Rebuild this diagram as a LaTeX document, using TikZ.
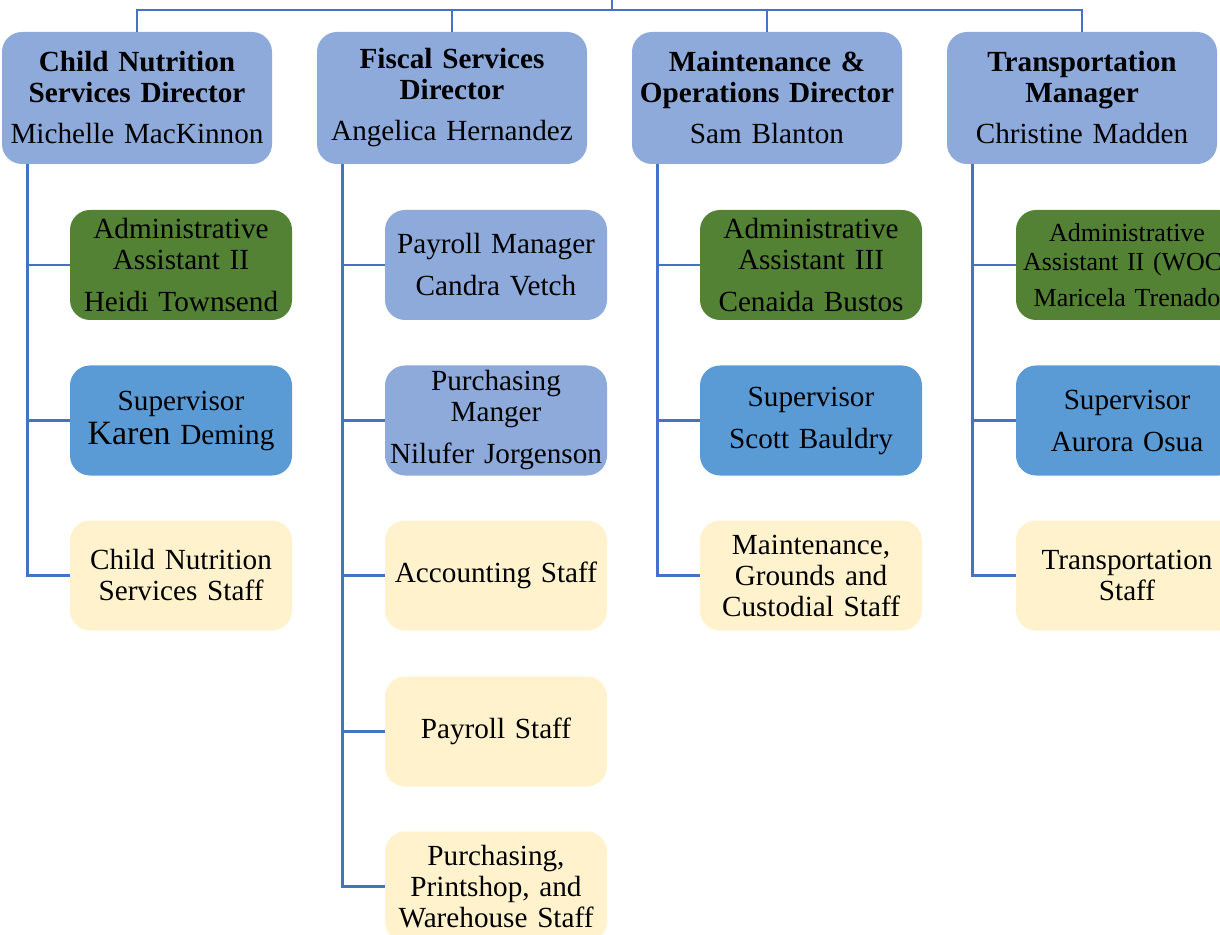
\documentclass[tikz,border=0pt]{standalone}
\usepackage{fontspec}
\setmainfont{Liberation Serif}
\usetikzlibrary{positioning}
\usetikzlibrary{calc}

\definecolor{headblue}{HTML}{8EAADB}
\definecolor{supblue}{HTML}{5B9BD5}
\definecolor{admingreen}{HTML}{548235}
\definecolor{staffyellow}{HTML}{FFF2CC}
\definecolor{linkblue}{HTML}{4472C4}

\begin{document}
\begin{tikzpicture}[x=0.5pt,y=-0.5pt,
  box/.style={rounded corners=10pt,align=center,inner sep=2pt,
    font=\fontsize{14.6}{15.5}\selectfont},
  head/.style={box,fill=headblue,text width=131pt,minimum width=135pt,minimum height=66pt},
  sub/.style={box,text width=107pt,minimum width=111pt,minimum height=55pt},
  admin/.style={sub,fill=admingreen},
  sup/.style={sub,fill=supblue},
  mgr/.style={sub,fill=headblue},
  staff/.style={sub,fill=staffyellow},
  conn/.style={draw=linkblue,line width=1.4pt}]
\clip (0,0) rectangle (1220,935);
\fill[white] (0,0) rectangle (1220,935);

% directors
\node[head] (cn) at (137,98) {{\bfseries Child Nutrition\\Services Director}\\[5pt]Michelle MacKinnon};
\node[head] (fs) at (452,98) {{\bfseries Fiscal Services\\Director}\\[5pt]Angelica Hernandez};
\node[head] (mo) at (767,98) {{\bfseries Maintenance \&\\Operations Director}\\[5pt]Sam Blanton};
\node[head] (tm) at (1082,98) {{\bfseries Transportation\\Manager}\\[5pt]Christine Madden};

% child nutrition
\node[admin] (cn1) at (181,265) {Administrative\\Assistant II\\[5.5pt]Heidi Townsend};
\node[sup] (cn2) at (181,420.5) {Supervisor\\[1.5pt]{\fontsize{17}{17}\selectfont Karen} Deming};
\node[staff] (cn3) at (181,575.5) {Child Nutrition\\Services Staff};

% fiscal services
\node[mgr] (fs1) at (496,265) {Payroll Manager\\[5.5pt]Candra Vetch};
\node[mgr] (fs2) at (496,420.5) {Purchasing\\Manger\\[5.5pt]Nilufer Jorgenson};
\node[staff] (fs3) at (496,575.5) {Accounting Staff};
\node[staff] (fs4) at (496,731.5) {Payroll Staff};
\node[staff] (fs5) at (496,886.5) {Purchasing,\\Printshop, and\\Warehouse Staff};

% maintenance & operations
\node[admin] (mo1) at (811,265) {Administrative\\Assistant III\\[5.5pt]Cenaida Bustos};
\node[sup] (mo2) at (811,420.5) {Supervisor\\[5.5pt]Scott Bauldry};
\node[staff] (mo3) at (811,575.5) {Maintenance,\\Grounds and\\Custodial Staff};

% transportation
\node[admin,font=\fontsize{13}{14.5}\selectfont] (tm1) at (1127,265) {Administrative\\Assistant II (WOC)\\[3.5pt]Maricela Trenado};
\node[sup] (tm2) at (1127,420.5) {Supervisor\\[5.5pt]Aurora Osua};
\node[staff] (tm3) at (1127,575.5) {Transportation\\Staff};

% top bar
\coordinate (top) at (612,-5);
\coordinate (bar) at (612,10);
\draw[conn] (top) -- (bar);
\draw[conn] (cn.north) |- (bar) -| (tm.north);
\foreach \d in {fs,mo}
  \draw[conn] (\d.north) -- (\d.north |- bar);

% spines
\foreach \d/\n in {cn/3,fs/5,mo/3,tm/3} {
  \foreach \i in {1,...,\n}
    \draw[conn] ([xshift=13pt]\d.south west) |- (\d\i.west);
  }
\end{tikzpicture}
\end{document}
